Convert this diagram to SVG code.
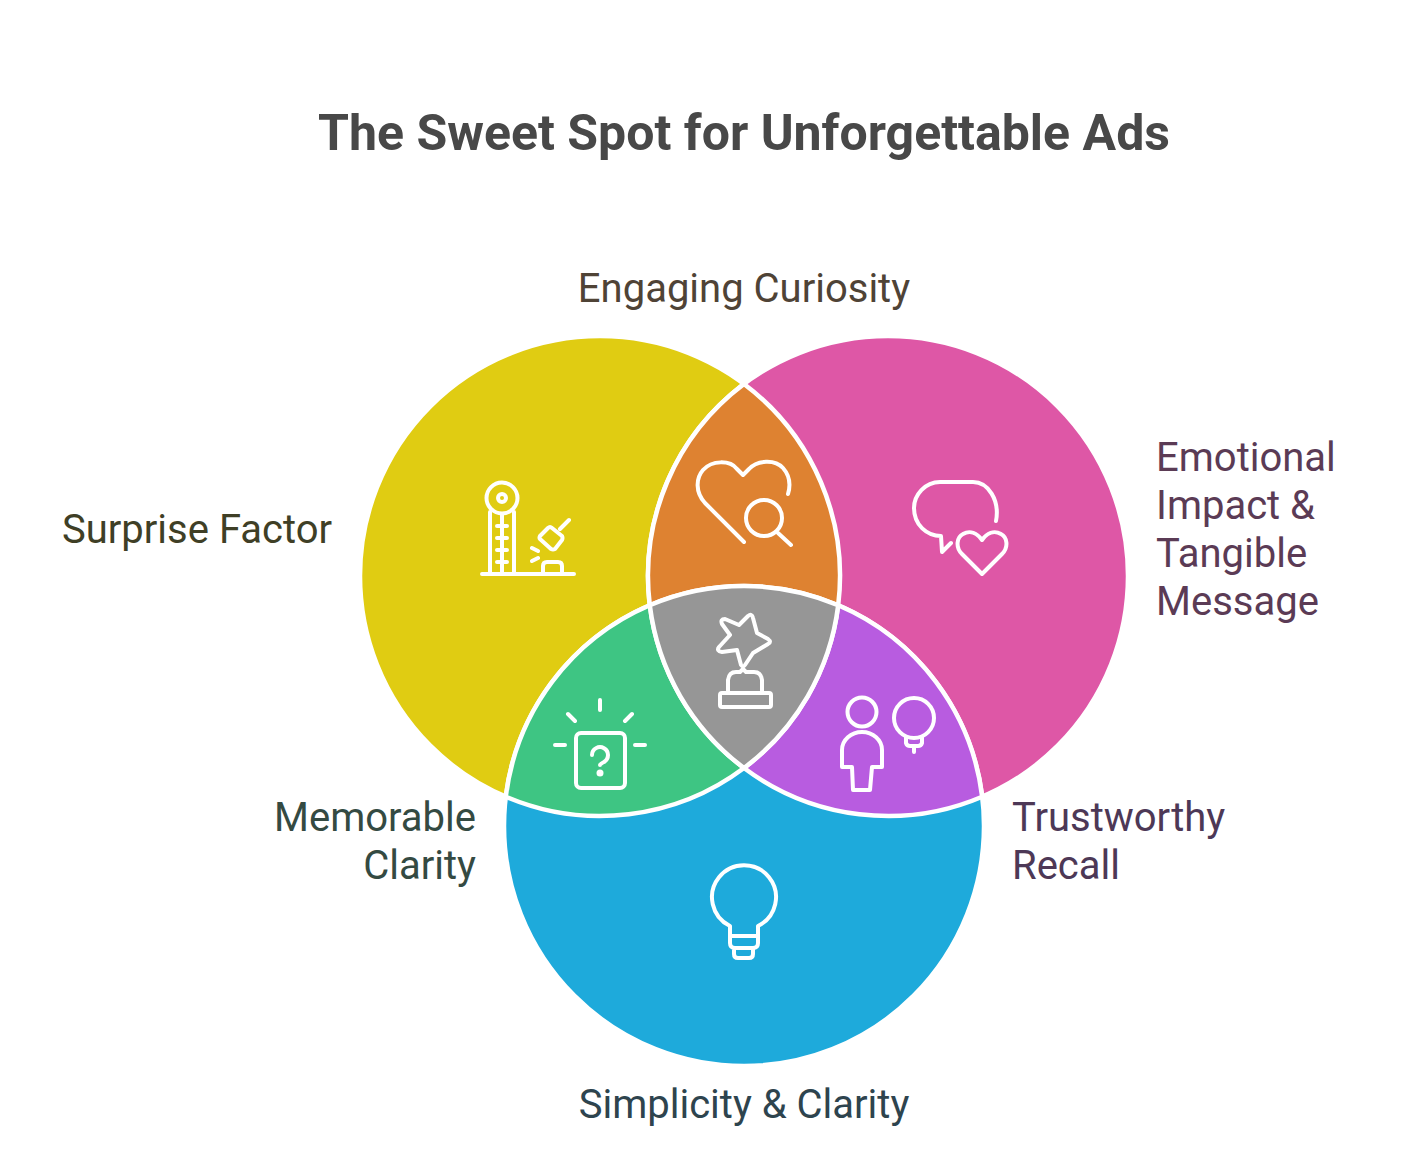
<svg xmlns="http://www.w3.org/2000/svg" width="1410" height="1156" viewBox="0 0 1410 1156">
<style>
text{font-family:Roboto,"Liberation Sans",sans-serif;font-size:40px}
.title{font-size:50px;font-weight:700;fill:#484848}
.reg{stroke:#fff;stroke-width:4.500;stroke-linejoin:round}
.ic{fill:none;stroke:#fff;stroke-width:4;stroke-linecap:round;stroke-linejoin:round}
</style>
<rect width="1410" height="1156" fill="#fff"/>
<text class="title" x="744" y="150" text-anchor="middle">The Sweet Spot for Unforgettable Ads</text>
<g id="surprise-factor">
<circle class="reg" cx="600" cy="576" r="240" fill="#e0cc12"/>
<g class="ic"><circle cx="502" cy="498" r="15.500"/><circle cx="502" cy="498" r="4"/><path d="M490 512V573M514 512V573M502 515V573M497 526H507M497 538H507M497 550H507M497 562H507M482 574H574M543 573V566Q543 562 547 562H558Q562 562 562 566V573M560 529L569 520M548 528L540 536Q539 538 540 539L551 549Q553 550 555 549L562 540Q563 538 562 536L552 528Q550 526 548 528ZM532 548L538 551M532 561L538 558"/></g>
<text x="62" y="542.500" fill="#3f3f26">Surprise Factor</text>
</g>
<g id="emotional-impact">
<circle class="reg" cx="888" cy="576" r="240" fill="#de57a6"/>
<g class="ic"><path d="M996 521C1000 500 988 482 973 482L940 482C925 482 914 495 914 508C914 525 927 536 941 536L942 552L951 543M982 574L962 554C955 547 957 537 963 534C970 530 977 533 982 540C987 533 994 530 1001 534C1007 537 1009 547 1002 554Z"/></g>
<text x="1156" y="470.500" fill="#5b3b55">Emotional</text>
<text x="1156" y="518.500" fill="#5b3b55">Impact &amp;</text>
<text x="1156" y="566.500" fill="#5b3b55">Tangible</text>
<text x="1156" y="614.500" fill="#5b3b55">Message</text>
</g>
<g id="simplicity-clarity">
<circle class="reg" cx="744" cy="826" r="240" fill="#1eaadb"/>
<g class="ic"><path d="M730 926A32 32 0 1 1 758 926V943Q758 948 753 948H735Q730 948 730 943ZM730 936H758M734 948V954Q734 958 738 958H749Q753 958 753 954V948"/></g>
<text x="744" y="1118" text-anchor="middle" fill="#2e444e">Simplicity &amp; Clarity</text>
</g>
<g id="engaging-curiosity">
<path class="reg" d="M744 384A240 240 0 0 1 838.200 605.300A240 240 0 0 0 649.800 605.300A240 240 0 0 1 744 384Z" fill="#de8231"/>
<g class="ic"><path d="M744 542L705 503C695 492 696 478 703 470C712 460 730 460 737 469L743 475L749 469C757 460 775 459 783 468C790 476 791 484 788 494M778 533L791 545"/><circle cx="764" cy="518" r="18"/></g>
<text x="744" y="302" text-anchor="middle" fill="#4f4336">Engaging Curiosity</text>
</g>
<g id="memorable-clarity">
<path class="reg" d="M649.800 605.300A240 240 0 0 0 744 768A240 240 0 0 1 505.800 796.700A240 240 0 0 1 649.800 605.300Z" fill="#3ec583"/>
<g class="ic"><rect x="576" y="733" width="49" height="55" rx="5"/><path d="M592 755A8 8 0 1 1 604 762C602 763 600 764 600 765M600 700V710M568 714L575 721M632 714L625 721M555 745H565M635 745H645"/></g>
<circle cx="600" cy="773" r="3.500" fill="#fff"/>
<text x="476" y="830.500" text-anchor="end" fill="#344a42">Memorable</text>
<text x="476" y="878.500" text-anchor="end" fill="#344a42">Clarity</text>
</g>
<g id="trustworthy-recall">
<path class="reg" d="M838.200 605.300A240 240 0 0 1 982.200 796.700A240 240 0 0 1 744 768A240 240 0 0 0 838.200 605.300Z" fill="#b85ce0"/>
<g class="ic"><circle cx="862" cy="712" r="14.500"/><path d="M842 767V750C842 740 851 732 862 732C873 732 882 740 882 750V767H872L870 790H853L852 767Z"/><circle cx="914" cy="718" r="20"/><path d="M906 737V743Q907 746 910 746H918Q921 746 922 743V737M914 746V752"/></g>
<text x="1012" y="830.500" fill="#4d3856">Trustworthy</text>
<text x="1012" y="878.500" fill="#4d3856">Recall</text>
</g>
<g id="sweet-spot">
<path class="reg" d="M649.800 605.300A240 240 0 0 1 838.200 605.300A240 240 0 0 1 744 768A240 240 0 0 1 649.800 605.300Z" fill="#969696"/>
<g class="ic"><path d="M730 635L722 624Q720 619 725 619L739 625L748 616Q752 613 753 618L757 633L768 639Q772 642 768 644L753 653L745 665Q743 668 741 665L737 650L722 652Q716 651 719 647ZM728 693V680Q729 672 736 672H740L743 669L746 672H754Q761 672 762 680V693M722 693H769Q771 693 771 695V705Q771 707 769 707H722Q720 707 720 705V695Q720 693 722 693Z"/></g>
</g>
<g id="connectors"/>
</svg>
